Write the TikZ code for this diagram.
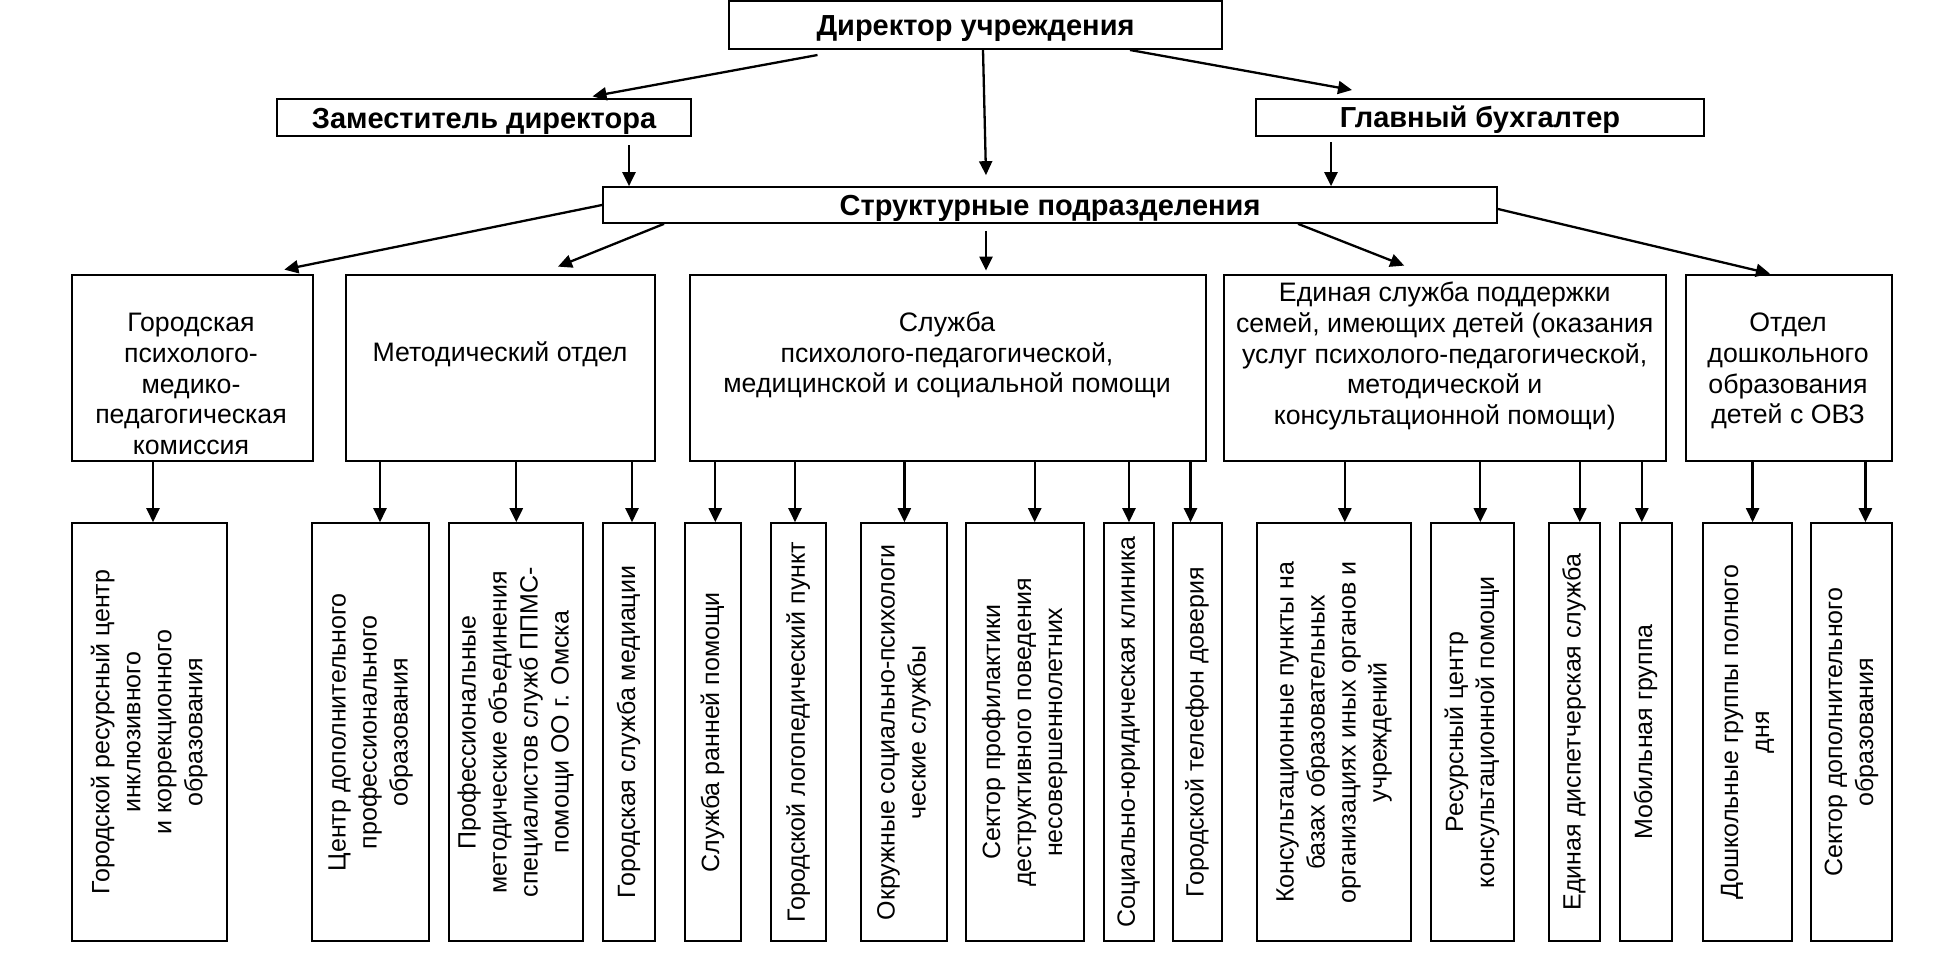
\documentclass[tikz,border=0pt]{standalone}
\usepackage{fontspec}
\setmainfont{Liberation Sans}
\usetikzlibrary{arrows.meta}
\newcommand{\vlabel}[1]{\rotatebox{90}{\begin{tabular}{@{}c@{}}#1\end{tabular}}}

\begin{document}
\begin{tikzpicture}[x=1pt, y=-1pt, >={Triangle[length=14pt,width=13pt]},
  font=\fontsize{26.7}{30.8}\selectfont,
  head/.style={draw, line width=2pt, inner sep=0pt, text height=20.8pt, text depth=0pt,
    font=\fontsize{29}{31}\selectfont\bfseries},
  unit/.style={draw, line width=2pt, inner sep=0pt, minimum height=186pt},
  leaf/.style={draw, line width=2pt, inner sep=0pt, minimum height=418pt,
    font=\fontsize{25}{31}\selectfont},
  txt/.style={align=center, inner sep=0pt},
  link/.style={->, line width=2.3pt}]

\useasboundingbox (0,0) rectangle (1958,970);

%% ===================== management =====================
\node[head, minimum width=493pt, minimum height=48pt] (dir) at (975.5,25) {Директор учреждения};
\node[head, minimum width=413.5pt, minimum height=36.7pt] (zam) at (484,117.7) {Заместитель директора};
\node[head, minimum width=447.6pt, minimum height=37pt] (glav) at (1480,117.5) {Главный бухгалтер};
\node[head, minimum width=894pt, minimum height=35.7pt] (struct) at (1050,205) {Структурные подразделения};

\draw[link] ([xshift=-158pt,yshift=-5pt]dir.south) -- ([xshift=108.5pt,yshift=2pt]zam.north);
\draw[link] ([xshift=154.5pt]dir.south) -- ([xshift=-128pt,yshift=8pt]glav.north);
\draw[link] ([xshift=7.5pt]dir.south) -- ([xshift=-64pt,yshift=11pt]struct.north);
\draw[link] ([xshift=145pt,yshift=-8pt]zam.south) -- ([xshift=145pt]zam.south |- struct.north);
\draw[link] ([xshift=-149pt,yshift=-5pt]glav.south) -- ([xshift=-149pt]glav.south |- struct.north);

%% ===================== divisions =====================
\node[unit, minimum width=240.5pt] (pmpk) at (192.3,367.6) {};
\node[txt] (pmpk-t) at (191,384) {Городская\\психолого-\\медико-\\педагогическая\\комиссия};

\node[unit, minimum width=309pt] (metod) at (500.5,367.6) {};
\node[txt] (metod-t) at (500,354) {Методический отдел};

\node[unit, minimum width=516pt] (sluzh) at (947.6,367.6) {};
\node[txt] (sluzh-t) at (947,355) {Служба\\психолого-педагогической,\\медицинской и социальной помощи};

\node[unit, minimum width=442.4pt] (edin) at (1445.2,367.6) {};
\node[txt] (edin-t) at (1444.7,356) {Единая служба поддержки\\семей, имеющих детей (оказания\\услуг психолого-педагогической,\\методической и\\консультационной помощи)};

\node[unit, minimum width=206.3pt] (otdel) at (1788.9,367.6) {};
\node[txt] (otdel-t) at (1788,371) {Отдел\\дошкольного\\образования\\детей с ОВЗ};

\draw[link] (struct.west) -- ([xshift=92pt,yshift=4pt]pmpk.north);
\draw[link] ([xshift=-386pt]struct.south) -- ([xshift=57.5pt,yshift=7pt]metod.north);
\draw[link] ([xshift=-64pt,yshift=-7pt]struct.south) -- ([xshift=38.4pt,yshift=3pt]sluzh.north);
\draw[link] ([xshift=248pt]struct.south) -- ([xshift=-41pt,yshift=8pt]edin.north);
\draw[link] ([yshift=-4pt]struct.east) -- ([xshift=-19pt]otdel.north);

%% ===================== units (vertical labels) =====================
\node[leaf, minimum width=154.7pt] (b1)  at (149.6,732.2)  {\vlabel{Городской ресурсный центр\\инклюзивного\\и коррекционного\\образования}};
\node[leaf, minimum width=117pt]   (b2)  at (370.5,732.2)  {\vlabel{Центр дополнительного\\профессионального\\образования}};
\node[leaf, minimum width=134.3pt] (b3)  at (515.8,732.2)  {\vlabel{Профессиональные\\методические объединения\\специалистов служб ППМС-\\помощи ОО г. Омска}};
\node[leaf, minimum width=52pt]    (b4)  at (629,732.2)    {\vlabel{Городская служба медиации}};
\node[leaf, minimum width=56.4pt]  (b5)  at (712.8,732.2)  {\vlabel{Служба ранней помощи}};
\node[leaf, minimum width=55.4pt]  (b6)  at (798.7,732.2)  {\vlabel{Городской логопедический пункт}};
\node[leaf, minimum width=85.8pt]  (b7)  at (903.9,732.2)  {\vlabel{Окружные социально-психологи\\ческие службы}};
\node[leaf, minimum width=118.3pt] (b8)  at (1024.9,732.2) {\vlabel{Сектор профилактики\\деструктивного поведения\\несовершеннолетних}};
\node[leaf, minimum width=50pt]    (b9)  at (1128.6,732.2) {\vlabel{Социально-юридическая клиника}};
\node[leaf, minimum width=49pt]    (b10) at (1197.5,732.2) {\vlabel{Городской телефон доверия}};
\node[leaf, minimum width=154pt]   (b11) at (1334,732.2)   {\vlabel{Консультационные пункты на\\базах образовательных\\организациях иных органов и\\учреждений}};
\node[leaf, minimum width=83.4pt]  (b12) at (1472.3,732.2) {\vlabel{Ресурсный центр\\консультационной помощи}};
\node[leaf, minimum width=51.5pt]  (b13) at (1574.3,732.2) {\vlabel{Единая диспетчерская служба}};
\node[leaf, minimum width=51.5pt]  (b14) at (1645.8,732.2) {\vlabel{Мобильная группа}};
\node[leaf, minimum width=88.7pt]  (b15) at (1747.4,732.2) {\vlabel{Дошкольные группы полного\\дня}};
\node[leaf, minimum width=81.2pt]  (b16) at (1851.4,732.2) {\vlabel{Сектор дополнительного\\образования}};

\foreach \p/\c/\s in {pmpk/b1/3.4, metod/b2/9.5, metod/b3/0.5, metod/b4/3,
    sluzh/b5/2.5, sluzh/b6/-3.7, sluzh/b7/0.5, sluzh/b8/9.8, sluzh/b9/0.4, sluzh/b10/-7,
    edin/b11/10.8, edin/b12/8, edin/b13/5.5, edin/b14/-4, otdel/b15/5.2, otdel/b16/14}
  \draw[link] ([xshift=\s pt]\c.north |- \p.south) -- ([xshift=\s pt]\c.north);

\end{tikzpicture}
\end{document}
